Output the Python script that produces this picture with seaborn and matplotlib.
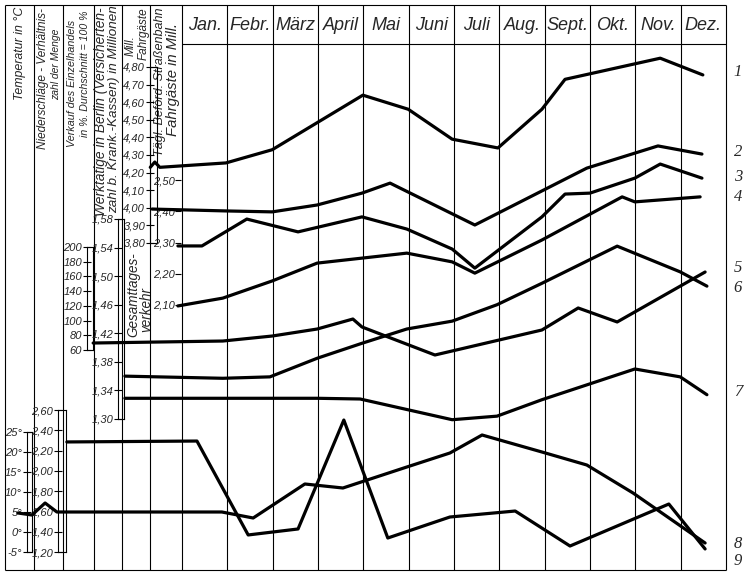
import matplotlib
matplotlib.use('Agg')
import matplotlib.pyplot as plt
import seaborn as sns

sns.set_theme(style='white')
plt.rcParams['font.family'] = ['Liberation Sans', 'DejaVu Sans']
plt.rcParams['axes.unicode_minus'] = False

#%% Daten  (Monatsachse: 0 = Anfang Jan., 12 = Ende Dez.; Werte in der Einheit der jeweiligen Skala)
monate = ['Jan.', 'Febr.', 'März', 'April', 'Mai', 'Juni', 'Juli', 'Aug.', 'Sept.', 'Okt.', 'Nov.', 'Dez.']
nummern = ['1', '2', '3', '4', '5', '6', '7', '8', '9']

# 1 - Gesamttagesverkehr, Mill. Fahrgäste
x1 = [-0.7, -0.6, -0.49, 0.97, 1.99, 3.99, 4.99, 5.96, 6.97, 7.94, 8.45, 10.55, 11.49]
y1 = [4.23, 4.26, 4.23, 4.255, 4.33, 4.64, 4.56, 4.39, 4.34, 4.56, 4.73, 4.85, 4.755]
# 2-4 - tägl. beförderte Straßenbahn-Fahrgäste in Mill.
x2 = [-0.66, 0.97, 1.99, 2.98, 3.97, 4.59, 6.46, 8.93, 9.99, 10.5, 11.47]
y2 = [2.407, 2.401, 2.398, 2.42, 2.458, 2.49, 2.356, 2.538, 2.586, 2.609, 2.583]
x3 = [-0.09, 0.44, 1.43, 2.56, 3.97, 4.96, 5.96, 6.46, 7.94, 8.45, 9.0, 9.99, 10.55, 11.47]
y3 = [2.289, 2.289, 2.375, 2.334, 2.382, 2.343, 2.279, 2.218, 2.382, 2.455, 2.458, 2.506, 2.551, 2.506]
x4 = [-0.09, 0.9, 1.99, 2.98, 3.97, 4.96, 5.96, 6.46, 7.94, 9.71, 9.99, 11.43]
y4 = [2.097, 2.122, 2.177, 2.234, 2.25, 2.266, 2.238, 2.202, 2.308, 2.446, 2.43, 2.446]
# 5 - Verkauf des Einzelhandels in %
x5 = [-1.96, 0.9, 1.99, 2.98, 3.77, 3.97, 5.58, 7.94, 8.74, 9.6, 11.54]
y5 = [69.5, 72.2, 79.0, 88.5, 102.1, 91.3, 53.2, 87.2, 117.1, 98.1, 166.0]
# 6, 7 - Werktätige in Berlin in Millionen
x6 = [-1.26, 0.9, 1.94, 2.98, 3.97, 4.96, 5.96, 6.95, 7.94, 9.6, 10.99, 11.58]
y6 = [1.360, 1.357, 1.359, 1.385, 1.406, 1.426, 1.437, 1.460, 1.490, 1.542, 1.506, 1.486]
x7 = [-1.26, 2.98, 3.93, 5.96, 6.95, 7.94, 9.99, 10.99, 11.58]
y7 = [1.329, 1.329, 1.328, 1.299, 1.304, 1.327, 1.370, 1.359, 1.334]
# 8 - Temperatur in °C
x8 = [-3.62, -3.31, -3.02, -2.76, 0.88, 1.57, 2.71, 3.55, 4.96, 5.91, 6.62, 7.94, 8.93, 9.95, 11.54]
y8 = [4.75, 4.25, 7.25, 5.0, 5.0, 3.5, 12.0, 11.0, 16.25, 19.75, 24.25, 20.0, 16.75, 9.75, -2.75]
# 9 - Niederschläge, Verhältniszahl der Menge
x9 = [-2.54, 0.33, 1.46, 2.56, 3.57, 4.54, 5.91, 7.35, 8.56, 10.74, 11.54]
y9 = [2.285, 2.294, 1.368, 1.427, 2.501, 1.338, 1.545, 1.604, 1.259, 1.673, 1.230]

#%% Layout (Pixel)
FW, FH = 745, 572
X0, W = 182, 45.33   # linke Kante Jan., Breite einer Monatsspalte

fig = plt.figure(figsize=(FW / 100, FH / 100), dpi=100)
fr = fig.add_axes([0, 0, 1, 1])
fr.set_xlim(0, FW)
fr.set_ylim(FH, 0)
fr.axis('off')

lw_gitter = 0.8
# Rahmen und Spalten
fr.hlines([5, 570], 5, 726, color='black', lw=lw_gitter)
fr.hlines(44, X0, 726, color='black', lw=lw_gitter)
fr.vlines([5, 34, 63, 94, 122, 150], 5, 570, color='black', lw=lw_gitter)
fr.vlines([X0 + i * W for i in range(13)], 5, 570, color='black', lw=lw_gitter)
for i, m in enumerate(monate):
    fr.text(X0 + (i + 0.5) * W, 25, m, ha='center', va='center', fontsize=13, style='italic')
ny = [72, 152, 177, 197, 268, 288, 392, 544, 561]
for n, yy in zip(nummern, ny):
    fr.text(738, yy, n, ha='center', va='center', fontsize=12, style='italic',
            family=['Liberation Serif', 'DejaVu Serif'])

renderer = fig.canvas.get_renderer()

def titel(x, y_oben, y_unten, s, groesse=None):
    # gedrehter Spaltentitel; ohne feste Größe wird er auf die Länge im Original gebracht
    t = fr.text(x, (y_oben + y_unten) / 2, s, rotation=90, ha='center', va='center',
                fontsize=groesse or 10, style='italic')
    if groesse is None:
        h = t.get_window_extent(renderer).height
        t.set_fontsize(10 * (y_unten - y_oben) / h)
    return t.get_fontsize()

titel(20, 7, 100, 'Temperatur in °C')
titel(43, 8, 150, 'Niederschläge - Verhältnis-')
titel(56, 28, 100, 'zahl der Menge')
titel(72, 20, 147, 'Verkauf des Einzelhandels')
titel(85, 10, 137, 'in %. Durchschnitt = 100 %')
titel(101, 7, 217, 'Werktätige in Berlin (Versicherten-')
titel(114, 5, 213, 'zahl b. Krank.-Kassen) in Millionen')
titel(131, 30, 62, 'Mill.', 8.5)
titel(144, 5, 62, 'Fahrgäste', 8.5)
titel(160, 7, 157, 'Tägl. Beförd. Straßenbahn')
titel(173, 23, 137, 'Fahrgäste in Mill.')
g = titel(133, 252, 337, 'Gesamttages-')
titel(146, 285, 335, 'verkehr', g)

#%% Skalen
def skala(x, w, v_hi, py_hi, v_lo, py_lo, ticks, fmt, balken=True):
    ax = fig.add_axes([x / FW, 1 - py_lo / FH, w / FW, (py_lo - py_hi) / FH])
    ax.set_facecolor('none')
    ax.set_ylim(v_lo, v_hi)
    ax.set_xticks([])
    ax.set_yticks(ticks)
    ax.set_yticklabels([fmt(t) for t in ticks], fontsize=8, style='italic')
    ax.tick_params(axis='y', left=True, direction='inout' if balken else 'out',
                   length=6 if balken else 4, width=0.8, pad=0.5, color='black')
    for s in ax.spines.values():
        s.set_visible(balken)
        s.set_color('black')
        s.set_linewidth(0.8)
    return ax

komma = lambda t: f'{t:.2f}'.replace('.', ',')
skala(150, 7, 4.80, 67, 3.80, 243, [3.8 + 0.1 * i for i in range(11)], komma)
skala(181, 1, 2.50, 180, 2.10, 305, [2.1, 2.2, 2.3, 2.4, 2.5], komma, balken=False)
skala(87, 6, 200, 247, 60, 350, list(range(60, 201, 20)), lambda t: f'{t}')
skala(118, 6, 1.58, 219, 1.30, 419, [1.30 + 0.04 * i for i in range(8)], komma)
skala(27, 5, 25, 432, -5, 552, list(range(-5, 26, 5)), lambda t: f'{t}°')
skala(58, 8, 2.60, 410, 1.20, 552, [1.2 + 0.2 * i for i in range(8)], komma)

#%% Kurven, jede auf der Achse ihrer Skala
def kurve(x, y, v_hi, py_hi, v_lo, py_lo):
    ax = fig.add_axes([0, 0, 1, 1])
    ax.set_xlim(-X0 / W, (FW - X0) / W)
    k = (v_hi - v_lo) / (py_lo - py_hi)
    ax.set_ylim(v_lo - (FH - py_lo) * k, v_hi + py_hi * k)
    sns.lineplot(x=x, y=y, ax=ax, color='black', lw=2.3, sort=False, estimator=None)
    ax.axis('off')

kurve(x1, y1, 4.80, 67, 3.80, 243)
kurve(x2, y2, 2.50, 180, 2.10, 305)
kurve(x3, y3, 2.50, 180, 2.10, 305)
kurve(x4, y4, 2.50, 180, 2.10, 305)
kurve(x5, y5, 200, 247, 60, 350)
kurve(x6, y6, 1.58, 219, 1.30, 419)
kurve(x7, y7, 1.58, 219, 1.30, 419)
kurve(x8, y8, 25, 432, -5, 552)
kurve(x9, y9, 2.60, 410, 1.20, 552)

fig.savefig('out.png', dpi=100)
